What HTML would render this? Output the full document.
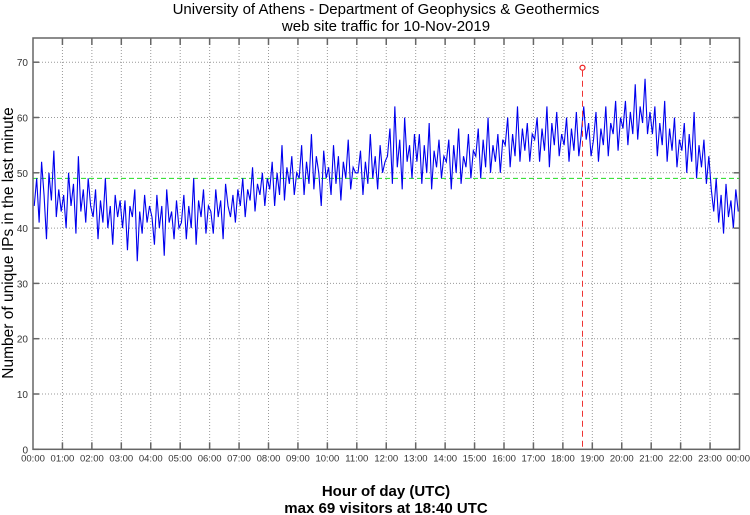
<!DOCTYPE html>
<html><head><meta charset="utf-8"><style>
html,body{margin:0;padding:0;background:#fff;}
svg{display:block;font-family:"Liberation Sans",sans-serif;}
</style></head><body>
<svg id="chart" width="750" height="515" viewBox="0 0 750 515">
<text x="386" y="14" text-anchor="middle" font-size="15">University of Athens - Department of Geophysics &amp; Geothermics</text>
<text x="386" y="31" text-anchor="middle" font-size="15">web site traffic for 10-Nov-2019</text>
<text transform="translate(13,243) rotate(-90)" text-anchor="middle" font-size="15.5">Number of unique IPs in the last minute</text>
<text x="386" y="496" text-anchor="middle" font-size="15" font-weight="bold">Hour of day (UTC)</text>
<text x="386" y="513" text-anchor="middle" font-size="15" font-weight="bold">max 69 visitors at 18:40 UTC</text>
<g id="grid"></g><g id="series"></g><g id="axes"></g>
</svg>
<script>
const yTicks=[0,10,20,30,40,50,60,70];
const xTickLabels=["00:00","01:00","02:00","03:00","04:00","05:00","06:00","07:00","08:00","09:00","10:00","11:00","12:00","13:00","14:00","15:00","16:00","17:00","18:00","19:00","20:00","21:00","22:00","23:00","00:00"];
const meanValue=49;
const maxValue=69;
const maxMinute=1120;
const visitors=[
44,49,41,52,46,38,50,45,54,42,47,43,
46,40,50,44,48,39,53,43,47,41,49,44,
42,47,38,45,41,49,40,44,37,46,42,45,
40,45,36,44,42,47,34,43,39,46,41,44,
42,37,46,40,44,35,47,41,43,38,45,40,
41,46,38,44,40,49,37,45,42,47,39,44,
43,39,47,42,45,38,48,44,42,46,41,47,
44,49,42,47,45,51,43,48,46,50,44,49,
47,52,44,50,46,55,45,51,48,53,46,50,
49,55,46,52,48,57,47,53,50,44,54,49,
51,46,55,48,53,45,52,49,56,47,51,50,
50,54,46,52,48,57,49,53,47,55,50,52,
53,58,48,62,51,56,47,60,52,55,49,57,
52,57,48,55,50,59,47,54,51,56,49,53,
52,56,47,55,50,58,48,53,51,57,49,54,
53,58,49,56,51,60,50,55,52,57,50,56,
55,60,51,57,53,62,52,58,54,59,52,57,
56,60,52,58,54,62,51,59,55,61,53,57,
55,60,52,58,54,61,53,57,62,56,59,53,
56,61,52,58,55,62,53,59,57,63,54,60,
58,63,55,61,57,66,56,62,59,67,57,61,
57,62,53,59,55,63,52,58,54,60,51,56,
54,59,50,57,52,61,49,55,51,56,48,53,
47,43,49,41,46,39,48,42,45,40,47,43];
const L=33,R=739.5,T=38,B=449.3;
const xs=m=>L+(R-L)*m/1440;
const ys=v=>B-v*5.53;
const NS="http://www.w3.org/2000/svg";
function mk(tag,attrs,parent){const e=document.createElementNS(NS,tag);for(const k in attrs)e.setAttribute(k,attrs[k]);parent.appendChild(e);return e;}
const grid=document.getElementById('grid'),ser=document.getElementById('series'),ax=document.getElementById('axes');
yTicks.forEach(v=>{
  if(v>0){const g=mk('line',{x1:L,x2:R,y1:ys(v),y2:ys(v),stroke:'#999','stroke-dasharray':'1,2'},grid);
  
  }
  const t=mk('text',{x:L-5,y:ys(v)+4,'text-anchor':'end','font-size':'10',fill:'#333'},ax);t.textContent=v;
  
  
  mk('line',{x1:L,x2:L+6,y1:ys(v),y2:ys(v),stroke:'#666','stroke-width':1.5},ax);
  mk('line',{x1:R-6,x2:R,y1:ys(v),y2:ys(v),stroke:'#666','stroke-width':1.5},ax);
});
xTickLabels.forEach((lab,i)=>{
  const x=xs(i*60);
  if(i>0&&i<24){const g=mk('line',{x1:x,x2:x,y1:T,y2:B,stroke:'#999','stroke-dasharray':'1,2'},grid);
  
  
  mk('line',{x1:x,x2:x,y1:B-7,y2:B,stroke:'#666','stroke-width':1.5},ax);
  mk('line',{x1:x,x2:x,y1:T,y2:T+7,stroke:'#666','stroke-width':1.5},ax);}
  let attrs={x:x,y:B+12,'text-anchor':'middle','font-size':'9.5',fill:'#333'};
  if(i===24){attrs.x=750;attrs['text-anchor']='end';}
  if(i===0){attrs.x=L;}
  const t=mk('text',attrs,ax);t.textContent=lab;
  
  
});
const mean=mk('line',{x1:L,x2:R,y1:ys(meanValue),y2:ys(meanValue),stroke:'#22dd22','stroke-dasharray':'5,3','stroke-width':1},ser);


const step=1440/visitors.length;
const pts=visitors.map((v,i)=>xs(i*step+step/2).toFixed(2)+','+ys(v).toFixed(2)).join(' ');
const line=mk('polyline',{points:pts,fill:'none',stroke:'#0000ee','stroke-width':1.1},ser);


const mx=xs(maxMinute);
const vl=mk('line',{x1:mx,x2:mx,y1:ys(maxValue)+3,y2:B,stroke:'#ee3333','stroke-dasharray':'6,4','stroke-width':1},ser);


const c=mk('circle',{cx:mx,cy:ys(maxValue),r:2.5,fill:'none',stroke:'#ee2222','stroke-width':1.2},ser);


const fr=mk('rect',{x:L,y:T,width:R-L,height:B-T,fill:'none',stroke:'#666','stroke-width':1.5},ax);


</script>
</body></html>
